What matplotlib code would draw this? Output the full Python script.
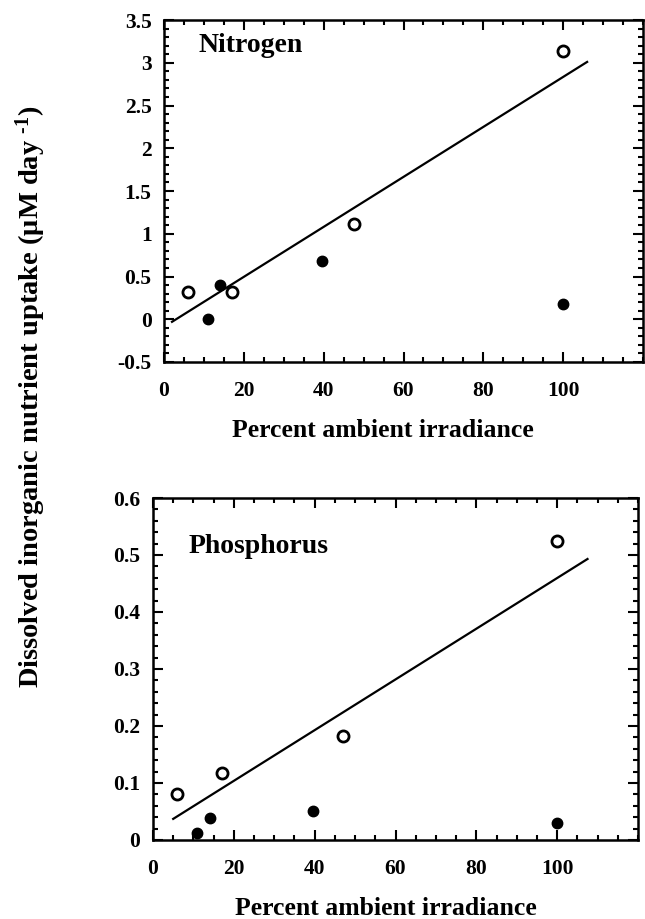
import matplotlib
matplotlib.use("Agg")
import matplotlib.pyplot as plt
from matplotlib.ticker import MultipleLocator, FuncFormatter

plt.rcParams['font.family'] = ['Liberation Serif', 'DejaVu Serif']
plt.rcParams['font.weight'] = 'bold'
plt.rcParams['axes.unicode_minus'] = False
plt.rcParams['mathtext.fontset'] = 'custom'
plt.rcParams['mathtext.rm'] = 'Liberation Serif:bold'
plt.rcParams['mathtext.it'] = 'Liberation Serif:bold'
plt.rcParams['mathtext.bf'] = 'Liberation Serif:bold'
plt.rcParams['mathtext.default'] = 'regular'

# irradiance (%) for each treatment
n_open_x = [6, 17, 47.5, 100]
n_open_y = [0.32, 0.32, 1.11, 3.14]
n_fill_x = [11, 14, 39.5, 100]
n_fill_y = [0.0, 0.40, 0.68, 0.18]
n_fit_x = [2, 106]
n_fit_y = [-0.03, 3.01]

p_open_x = [6, 17, 47, 100]
p_open_y = [0.080, 0.118, 0.182, 0.525]
p_fill_x = [11, 14, 39.5, 100]
p_fill_y = [0.012, 0.039, 0.050, 0.029]
p_fit_x = [5, 107.5]
p_fit_y = [0.037, 0.493]

fig = plt.figure(figsize=(6.45, 9.19), dpi=100)
ax1 = fig.add_axes([0.2543, 0.6061, 0.7426, 0.3721])
ax2 = fig.add_axes([0.2372, 0.0860, 0.7520, 0.3721])

fmt = FuncFormatter(lambda v, pos: '%g' % round(v, 3))


def panel(ax, ox, oy, fx, fy, lx, ly, ylim, ymaj, ymin, name, tx, ty, xl):
    ax.plot(lx, ly, color='black', lw=1.6, zorder=2)
    ax.plot(ox, oy, 'o', ms=8, mfc='white', mec='black', mew=2.0, zorder=3)
    ax.plot(fx, fy, 'o', ms=7.5, mfc='black', mec='black', zorder=3)
    ax.set_xlim(0, 120)
    ax.set_ylim(*ylim)
    ax.set_xticks([0, 20, 40, 60, 80, 100])
    ax.xaxis.set_minor_locator(MultipleLocator(5))
    ax.yaxis.set_major_locator(MultipleLocator(ymaj))
    ax.yaxis.set_minor_locator(MultipleLocator(ymin))
    ax.xaxis.set_major_formatter(fmt)
    ax.yaxis.set_major_formatter(fmt)
    ax.tick_params(which='both', direction='in', top=True, right=True,
                   width=1.5, labelsize=15.5)
    ax.tick_params(axis='x', pad=14)
    ax.tick_params(axis='y', pad=9)
    ax.tick_params(which='major', length=7)
    ax.tick_params(which='minor', length=3.5)
    for s in ax.spines.values():
        s.set_linewidth(1.8)
    ax.set_xlabel('Percent ambient irradiance', fontsize=18.5, fontweight='bold')
    ax.xaxis.set_label_coords(xl, -0.2)
    ax.xaxis.label.set_va('center')
    ax.text(tx, ty, name, transform=ax.transAxes, fontsize=20,
            fontweight='bold', va='baseline', ha='left')


panel(ax1, n_open_x, n_open_y, n_fill_x, n_fill_y, n_fit_x, n_fit_y,
      (-0.5, 3.5), 0.5, 0.1, 'Nitrogen', 0.073, 0.906, 0.457)
panel(ax2, p_open_x, p_open_y, p_fill_x, p_fill_y, p_fit_x, p_fit_y,
      (0, 0.6), 0.1, 0.02, 'Phosphorus', 0.074, 0.839, 0.48)

fig.text(0.048, 0.568,
         r'Dissolved inorganic nutrient uptake ($\mu$M day $^{\text{-1}}$)',
         rotation=90, fontsize=20.5, fontweight='bold', ha='center', va='center')

fig.savefig('out.png', dpi=100)
